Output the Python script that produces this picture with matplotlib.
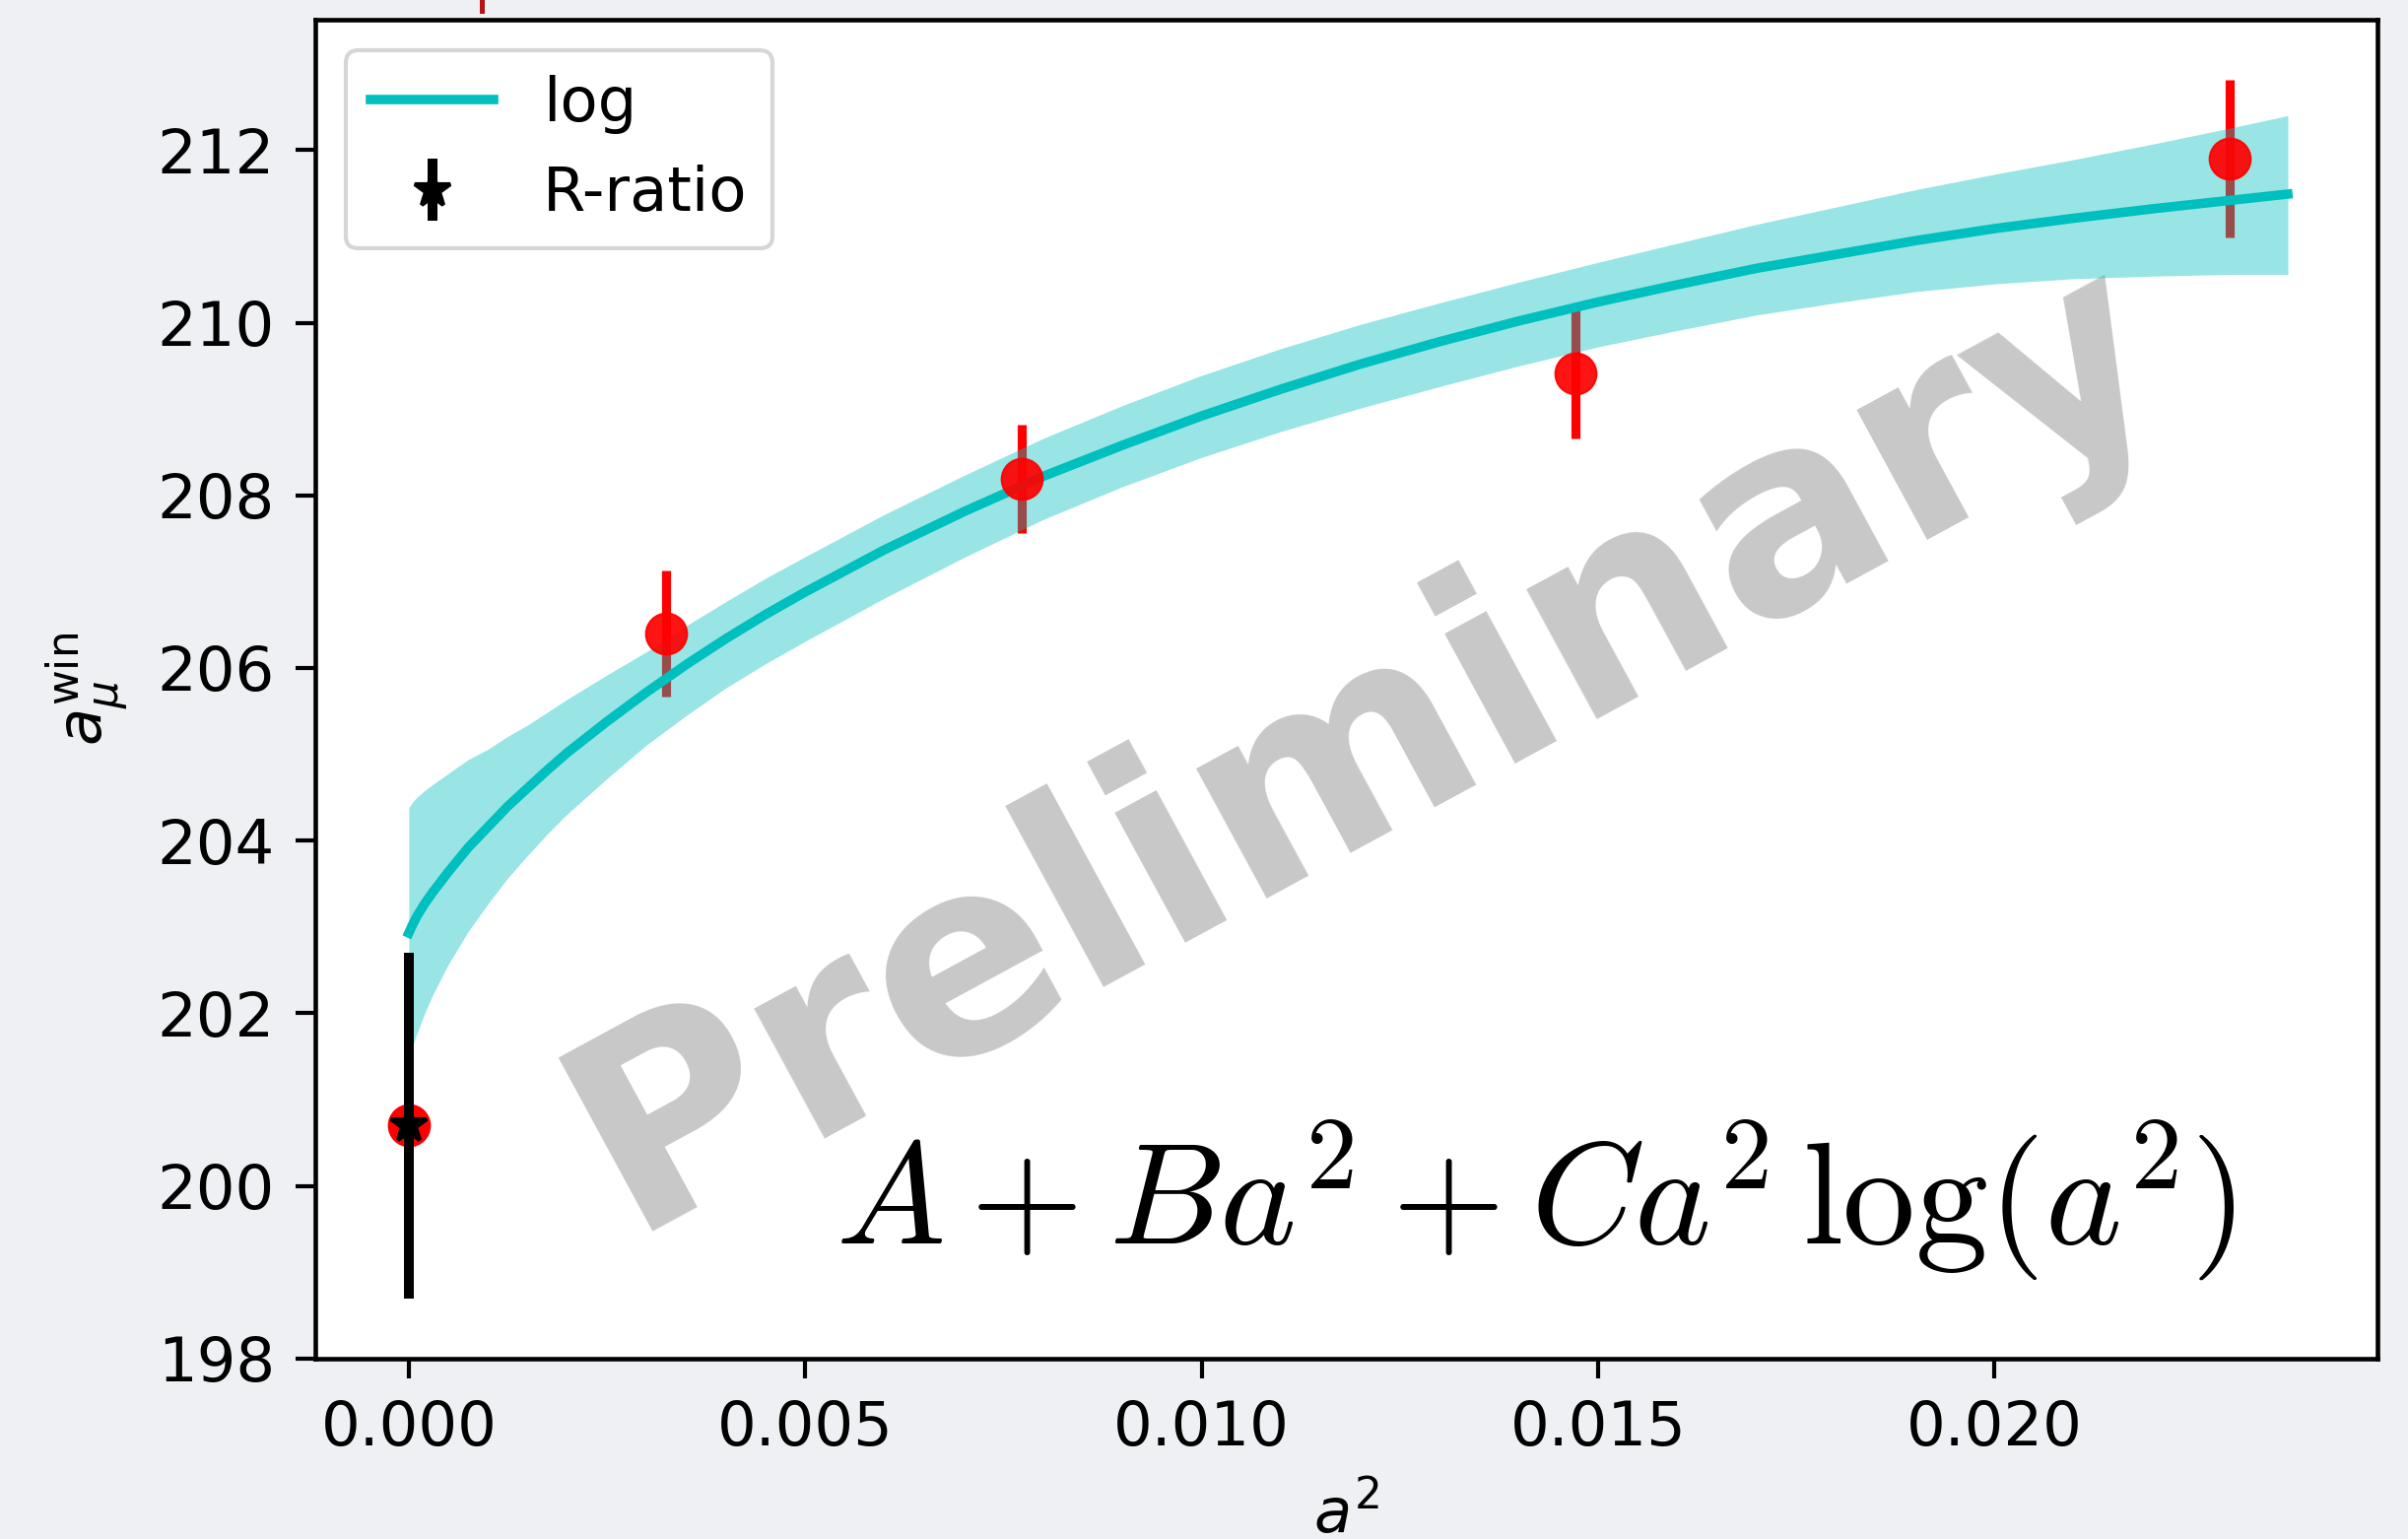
import matplotlib
matplotlib.use("Agg")
import matplotlib.pyplot as plt
from matplotlib.lines import Line2D

# ============================================================
# DATA
# ============================================================

# lattice points: a^2, a_mu^win, error
x_lat   = [0.003243, 0.007732, 0.014712, 0.022966]
y_lat   = [206.40, 208.19, 209.41, 211.90]
err_lat = [0.73, 0.63, 0.75, 0.91]

# continuum value / R-ratio at a^2 = 0
x_rr   = [0.0]
y_rr   = [200.70]
err_rr = [2.00]

# fitted curve A + B a^2 + C a^2 log(a^2) and its error band
fit_x  = [0.0, 0.00005, 0.0001, 0.0002, 0.0003, 0.0005, 0.00075, 0.001,
          0.00125, 0.0015, 0.00175, 0.002, 0.0025, 0.003, 0.0035, 0.004,
          0.0045, 0.005, 0.006, 0.007, 0.008, 0.009, 0.010, 0.011, 0.012,
          0.013, 0.014, 0.015, 0.016, 0.017, 0.018, 0.019, 0.020, 0.021,
          0.022, 0.023, 0.0237]
fit_y  = [202.93, 203.03, 203.12, 203.27, 203.40, 203.64, 203.92, 204.16,
          204.40, 204.61, 204.82, 205.02, 205.38, 205.72, 206.04, 206.34,
          206.62, 206.88, 207.37, 207.81, 208.22, 208.58, 208.92, 209.23, 209.52,
          209.78, 210.02, 210.24, 210.44, 210.63, 210.79, 210.95, 211.09, 211.21,
          211.32, 211.42, 211.49]
fit_hi = [204.38, 204.45, 204.50, 204.58, 204.65, 204.78, 204.94, 205.06,
          205.21, 205.34, 205.49, 205.64, 205.92, 206.19, 206.49, 206.77,
          207.04, 207.29, 207.78, 208.23, 208.66, 209.04, 209.39, 209.70, 209.98,
          210.23, 210.47, 210.70, 210.92, 211.14, 211.34, 211.54, 211.72, 211.89,
          212.07, 212.26, 212.40]
fit_lo = [201.55, 201.63, 201.76, 202.00, 202.21, 202.57, 202.95, 203.27,
          203.57, 203.83, 204.08, 204.31, 204.72, 205.11, 205.45, 205.77,
          206.05, 206.31, 206.81, 207.28, 207.72, 208.10, 208.44, 208.74, 209.01,
          209.26, 209.50, 209.72, 209.91, 210.09, 210.23, 210.36, 210.45, 210.51,
          210.54, 210.56, 210.56]

x_ticks = [0.000, 0.005, 0.010, 0.015, 0.020]
y_ticks = [198, 200, 202, 204, 206, 208, 210, 212]

# ============================================================
# STYLE
# ============================================================

plt.rcParams["font.family"] = ["DejaVu Sans"]
plt.rcParams["font.size"] = 15
plt.rcParams["axes.linewidth"] = 1.1
plt.rcParams["xtick.major.size"] = 4.8
plt.rcParams["ytick.major.size"] = 4.8
plt.rcParams["xtick.major.width"] = 1.0
plt.rcParams["ytick.major.width"] = 1.0
plt.rcParams["xtick.major.pad"] = 5
plt.rcParams["ytick.major.pad"] = 5

BG = "#eff0f4"

fig = plt.figure(figsize=(2444 / 300, 1562 / 300), dpi=300, facecolor=BG)
ax = fig.add_axes([0.1309, 0.1172, 0.8564, 0.8700])
ax.set_facecolor("white")

# red error bars sit under the band, markers on top
ax.errorbar(x_lat, y_lat, yerr=err_lat, fmt="none", ecolor="red",
            elinewidth=2.2, zorder=1)
ax.fill_between(fit_x, fit_lo, fit_hi, color="c", alpha=0.4, lw=0, zorder=2)
ax.plot(fit_x, fit_y, color="c", lw=2.3, zorder=3, label="log")
ax.plot(x_lat, y_lat, "o", color="red", ms=10, mew=0.5, alpha=0.92, zorder=4)

ax.plot(x_rr, y_rr, "o", color="red", ms=10, mew=0.5, zorder=5)
ax.errorbar(x_rr, y_rr, yerr=err_rr, fmt="*", color="black", ms=9,
            elinewidth=2.4, zorder=6, label="R-ratio")

ax.set_xlim(-0.00118, 0.02483)
ax.set_ylim(198, 213.51)
ax.set_xticks(x_ticks)
ax.set_yticks(y_ticks)
ax.set_xlabel("$a^2$", labelpad=6)
ax.set_ylabel(r"$a_\mu^{\rm win}$", labelpad=6.5)

ax.legend(loc="upper left")

# watermark and fit formula
ax.text(0.0121, 205.1, "Preliminary", fontsize=66, fontweight="bold",
        color="#c8c8c8", rotation=28.5, ha="center", va="center", zorder=0)
ax.text(0.5915, 0.118, r"$A + Ba^2 + Ca^2\,\log(a^2)$", transform=ax.transAxes,
        fontsize=35.5, math_fontfamily="cm", ha="center", va="center", zorder=7)

# small red stub poking in at the top edge of the slide
fig.add_artist(Line2D([0.1999, 0.1999], [0.993, 1.0], transform=fig.transFigure,
                      color="#b41414", lw=1.2))

fig.savefig("out.png", dpi=300, facecolor=BG)
